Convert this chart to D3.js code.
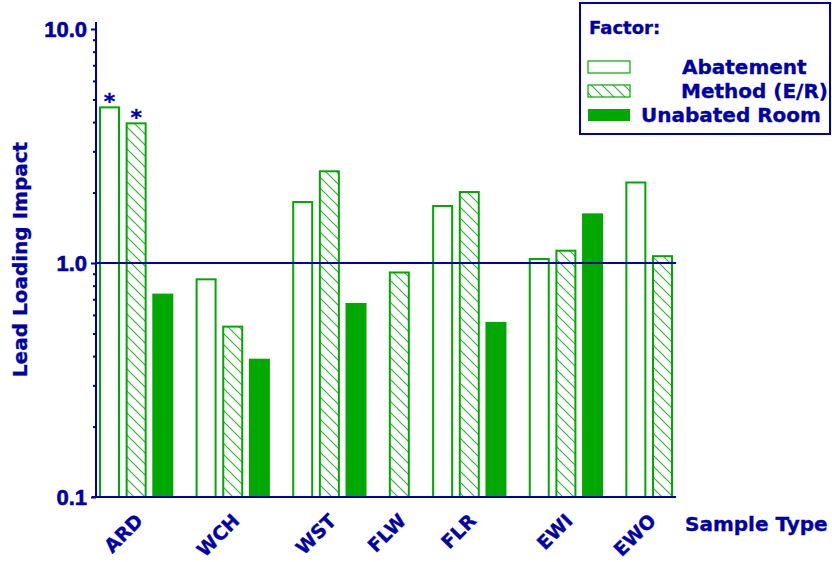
<!DOCTYPE html>
<html>
<head>
<meta charset="utf-8">
<script src="https://cdn.jsdelivr.net/npm/d3@7"></script>
<style>
  body { margin: 0; background: #fff; }
  text { font-family: "DejaVu Sans", sans-serif; font-weight: bold; fill: #0000a8; stroke: #0000a8; stroke-width: 0.35px; }
</style>
</head>
<body>
<svg width="832" height="562"></svg>
<script>
// data
var categories = ["ARD", "WCH", "WST", "FLW", "FLR", "EWI", "EWO"];
var factors = ["Abatement", "Method (E/R)", "Unabated Room"];
var abatement = [4.67, 0.86, 1.84, null, 1.77, 1.05, 2.23];
var method = [3.99, 0.54, 2.49, 0.92, 2.03, 1.14, 1.08];
var unabated = [0.74, 0.39, 0.675, null, 0.56, 1.63, null];
var starAbatement = [true, false, false, false, false, false, false];
var starMethod = [true, false, false, false, false, false, false];
var yTicks = [0.1, 1, 10];
var yTickLabels = ["0.1", "1.0", "10.0"];

var navy = "#0000a8";
var green = "#00a800";
var hatchGreen = "#30b430";

var svg = d3.select("svg");
var margin = { top: 22, left: 96, right: 156, bottom: 65 };
var plotRight = +svg.attr("width") - margin.right;
var plotBottom = +svg.attr("height") - margin.bottom;

var defs = svg.append("defs");
var pat = defs.append("pattern")
  .attr("id", "hatch")
  .attr("patternUnits", "userSpaceOnUse")
  .attr("width", 11).attr("height", 11);
pat.append("rect").attr("width", 11).attr("height", 11).attr("fill", "#fff");
pat.append("path")
  .attr("d", "M-1,-1L12,12M-12,-1L1,12M10,-1L23,12")
  .attr("stroke", hatchGreen).attr("stroke-width", 1.1);

// layout bars in slot units, skipping missing ones
var series = [abatement, method, unabated];
var stars = [starAbatement, starMethod, null];
var gapU = 0.625, padU = 0.1125, barU = 0.7875;
var bars = [], groups = [];
var k = 0;
categories.forEach(function(c, i) {
  var first = null, last = null;
  series.forEach(function(s, j) {
    if (s[i] == null) return;
    var u = padU + k + gapU * i;
    bars.push({ cat: c, factor: j, value: s[i], u: u, star: stars[j] ? stars[j][i] : false });
    if (first == null) first = u;
    last = u;
    k++;
  });
  groups.push({ cat: c, mid: (first + last + barU) / 2 });
});
var totalU = padU * 2 + (k - 1) + gapU * (categories.length - 1) + barU;

var x = d3.scaleLinear().domain([0, totalU]).range([margin.left, plotRight]);
var y = d3.scaleLog().domain([0.1, 10]).range([plotBottom, 29]);

var g = svg.append("g");

// y axis
var yAxis = g.append("g")
  .attr("transform", "translate(" + margin.left + ",0)")
  .call(d3.axisLeft(y).tickValues(yTicks).tickSize(5).tickPadding(4)
    .tickFormat(function(d, i) { return yTickLabels[i]; }));
yAxis.select(".domain").remove();
yAxis.selectAll("line").attr("stroke", navy).attr("stroke-width", 2);
yAxis.selectAll("text")
  .style("font-size", "22px")
  .style("font-family", "'Liberation Sans', Arial, sans-serif")
  .style("stroke-width", "0.6px");

var minor = [];
[0.1, 1].forEach(function(b) { for (var m = 2; m <= 9; m++) minor.push(b * m); });
g.append("g")
  .attr("transform", "translate(" + margin.left + ",0)")
  .call(d3.axisLeft(y).tickValues(minor).tickSize(3).tickFormat(""))
  .call(function(a) { a.select(".domain").remove(); })
  .selectAll("line").attr("stroke", navy).attr("stroke-width", 2);

g.append("line")
  .attr("x1", margin.left).attr("x2", margin.left)
  .attr("y1", margin.top).attr("y2", plotBottom + 1)
  .attr("stroke", navy).attr("stroke-width", 2);

// bars
g.selectAll(".bar")
  .data(bars)
  .enter().append("rect")
    .attr("class", "bar")
    .attr("x", function(d) { return x(d.u) + 1; })
    .attr("width", function(d) { return x(d.u + barU) - x(d.u) - 2; })
    .attr("y", function(d) { return y(d.value) + 1; })
    .attr("height", function(d) { return plotBottom - y(d.value) - 1; })
    .attr("fill", function(d) { return d.factor == 0 ? "#fff" : d.factor == 1 ? "url(#hatch)" : green; })
    .attr("stroke", green)
    .attr("stroke-width", 2);

g.selectAll(".star")
  .data(bars.filter(function(d) { return d.star; }))
  .enter().append("text")
    .attr("class", "star")
    .attr("x", function(d) { return x(d.u + barU / 2); })
    .attr("y", function(d) { return y(d.value) + 3; })
    .attr("text-anchor", "middle")
    .attr("font-size", 22)
    .text("*");

// reference line at 1.0 and baseline
g.append("line")
  .attr("x1", margin.left).attr("x2", plotRight)
  .attr("y1", y(1)).attr("y2", y(1))
  .attr("stroke", navy).attr("stroke-width", 2);
g.append("line")
  .attr("x1", margin.left - 4).attr("x2", plotRight)
  .attr("y1", plotBottom).attr("y2", plotBottom)
  .attr("stroke", navy).attr("stroke-width", 2);

// category labels
g.selectAll(".cat")
  .data(groups)
  .enter().append("text")
    .attr("class", "cat")
    .attr("text-anchor", "end")
    .attr("font-size", 19)
    .attr("transform", function(d) { return "translate(" + (x(d.mid) + 8) + "," + (plotBottom + 25) + ") rotate(-45)"; })
    .text(function(d) { return d.cat; });

svg.append("text")
  .attr("x", 685).attr("y", 531)
  .attr("font-size", 20)
  .text("Sample Type");

svg.append("text")
  .attr("transform", "translate(27," + (margin.top + plotBottom) / 2 + ") rotate(-90)")
  .attr("text-anchor", "middle")
  .attr("font-size", 20)
  .text("Lead Loading Impact");

// legend
var legend = svg.append("g").attr("transform", "translate(580,3)");
legend.append("rect")
  .attr("width", 250).attr("height", 131)
  .attr("fill", "#fff").attr("stroke", navy).attr("stroke-width", 2);
legend.append("text").attr("x", 9).attr("y", 31).attr("font-size", 18).text("Factor:");
var legendTextX = [102, 101, 61];
var item = legend.selectAll(".item")
  .data(factors)
  .enter().append("g")
    .attr("transform", function(d, i) { return "translate(0," + (58 + i * 24) + ")"; });
item.append("rect")
  .attr("x", 8).attr("y", 0).attr("width", 42).attr("height", 12)
  .attr("fill", function(d, i) { return i == 0 ? "#fff" : i == 1 ? "url(#hatch)" : green; })
  .attr("stroke", green)
  .attr("stroke-width", function(d, i) { return i == 2 ? 0 : 1.2; });
item.append("text")
  .attr("x", function(d, i) { return legendTextX[i]; })
  .attr("y", 13)
  .attr("font-size", 20)
  .text(function(d) { return d; });
</script>
</body>
</html>
